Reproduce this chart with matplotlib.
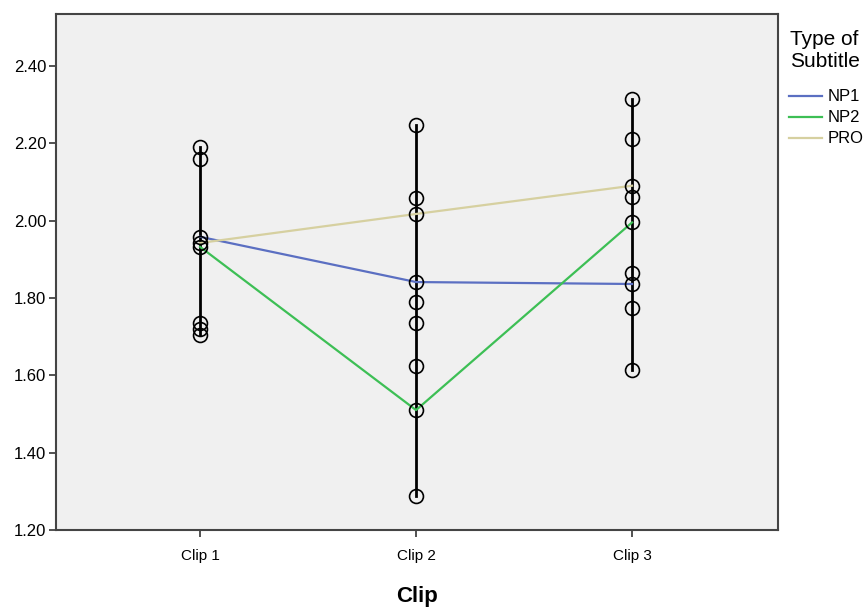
import matplotlib.pyplot as plt
from matplotlib.ticker import FormatStrFormatter

plt.rcParams['font.family'] = ['Liberation Sans', 'DejaVu Sans']

clips = ['Clip 1', 'Clip 2', 'Clip 3']

# individual observations per clip
clip1_obs = [2.190, 2.159, 1.958, 1.942, 1.932, 1.735, 1.720, 1.704]
clip2_obs = [2.246, 2.059, 2.017, 1.841, 1.790, 1.735, 1.624, 1.510, 1.288]
clip3_obs = [2.315, 2.211, 2.090, 2.061, 1.995, 1.865, 1.836, 1.775, 1.614]

# mean per subtitle type
np1 = [1.958, 1.841, 1.836]
np2 = [1.932, 1.510, 1.995]
pro = [1.942, 2.017, 2.090]

series = [('NP1', np1, '#5b6fc2'), ('NP2', np2, '#3dbf55'), ('PRO', pro, '#d6d0a0')]

fig = plt.figure(figsize=(8.64, 6.08), dpi=100)
ax = fig.add_axes([0.0648, 0.1283, 0.8357, 0.8487])
ax.set_facecolor('#f0f0f0')

xs = [1, 2, 3]
for x, obs in zip(xs, [clip1_obs, clip2_obs, clip3_obs]):
    ax.plot([x, x], [min(obs), max(obs)], color='black', lw=2, zorder=2)
    ax.plot([x] * len(obs), obs, linestyle='none', marker='o', ms=10,
            mfc='none', mec='black', mew=1.2, zorder=4)

for name, vals, col in series:
    ax.plot(xs, vals, color=col, lw=1.6, label=name, zorder=3)

ax.set_xlim(1 - 0.667, 3 + 0.676)
ax.set_ylim(1.2, 2.534)
ax.set_xticks(xs)
ax.set_xticklabels(clips)
ax.set_yticks([1.2, 1.4, 1.6, 1.8, 2.0, 2.2, 2.4])
ax.yaxis.set_major_formatter(FormatStrFormatter('%.2f'))
ax.tick_params(axis='both', direction='out', length=5, width=1.2,
               colors='#333333', labelsize=11, labelcolor='black')
ax.tick_params(axis='x', pad=9)
ax.tick_params(axis='y', pad=2, labelsize=12)
for s in ax.spines.values():
    s.set_color('#444444')
    s.set_linewidth(1.5)

ax.set_xlabel('Clip', fontsize=16, fontweight='bold', labelpad=16)

# legend title placed separately so its spacing can be set
fig.text(0.914, 0.951, 'Type of\nSubtitle', fontsize=15, va='top', ha='left',
         linespacing=1.2)
leg = fig.legend(loc='upper left', bbox_to_anchor=(0.913, 0.853),
                 frameon=False, fontsize=12, handlelength=2.0,
                 handletextpad=0.3, labelspacing=0.36,
                 borderaxespad=0.0, borderpad=0.0)

fig.savefig('out.png', dpi=100)
